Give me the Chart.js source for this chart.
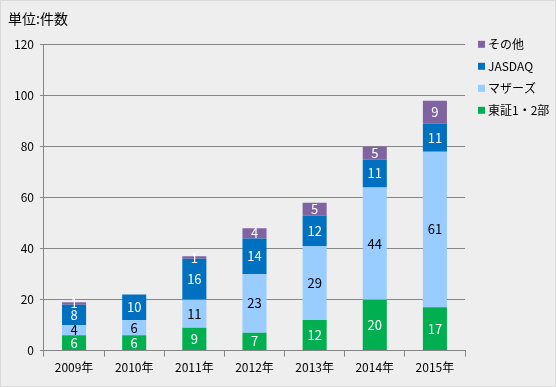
<!DOCTYPE html>
<html><head><meta charset="utf-8">
<script src="https://cdn.jsdelivr.net/npm/chart.js@4/dist/chart.umd.min.js"></script>
<style>html,body{margin:0;padding:0;background:#eeeeee}canvas{display:block}</style>
</head><body><canvas id="c" width="556" height="387"></canvas>
<script>
const categories = ['2009年','2010年','2011年','2012年','2013年','2014年','2015年'];
const tosho = [6,6,9,7,12,20,17];
const mothers = [4,6,11,23,29,44,61];
const jasdaq = [8,10,16,14,12,11,11];
const others = [1,0,1,4,5,5,9];
const seriesNames = ['東証1・2部','マザーズ','JASDAQ','その他'];
const seriesColors = ['#00B050','#99CCFF','#0070C0','#8064A2'];
const labelColors = ['#ffffff','#000000','#ffffff','#ffffff'];
const yMin = 0, yMax = 120, yStep = 20;

const FONT = '"Noto Sans CJK JP", "Noto Sans", sans-serif';
Chart.defaults.font.family = FONT;
Chart.defaults.color = '#000';

const bgPlugin = {
  id: 'bg',
  beforeDraw(chart) {
    const c = chart.ctx;
    c.save();
    c.fillStyle = '#eeeeee';
    c.fillRect(0, 0, chart.width, chart.height);
    c.strokeStyle = '#d9d9d9';
    c.lineWidth = 1;
    c.strokeRect(0.5, 0.5, chart.width - 1, chart.height - 1);
    c.restore();
  }
};

const labelPlugin = {
  id: 'segLabels',
  afterDatasetsDraw(chart) {
    const c = chart.ctx;
    c.save();
    c.font = '13px ' + FONT;
    c.textAlign = 'center';
    c.textBaseline = 'middle';
    chart.data.datasets.forEach((ds, i) => {
      const meta = chart.getDatasetMeta(i);
      meta.data.forEach((bar, j) => {
        const v = ds.data[j];
        if (!v) return;
        c.fillStyle = labelColors[i];
        c.fillText(String(v), bar.x, (bar.y + bar.base) / 2);
      });
    });
    c.restore();
  }
};

// legend drawn beside the plot, in reverse dataset order
const legendPlugin = {
  id: 'sideLegend',
  afterDraw(chart) {
    const c = chart.ctx;
    const area = chart.chartArea;
    const x0 = area.right + 13;
    const y0 = area.top;
    const step = 22;
    c.save();
    c.font = '12px ' + FONT;
    c.textAlign = 'left';
    c.textBaseline = 'middle';
    const ds = chart.data.datasets.slice().reverse();
    ds.forEach((d, k) => {
      const y = y0 + k * step;
      c.fillStyle = d.backgroundColor;
      c.fillRect(x0, y - 4, 7, 7);
      c.fillStyle = '#000';
      c.fillText(d.label, x0 + 10, y);
    });
    c.restore();
  }
};

const datasets = [tosho, mothers, jasdaq, others].map((d, i) => ({
  label: seriesNames[i],
  data: d,
  backgroundColor: seriesColors[i],
  borderWidth: 0,
  barPercentage: 0.4,
  categoryPercentage: 1.0
}));

new Chart(document.getElementById('c'), {
  type: 'bar',
  data: { labels: categories, datasets },
  plugins: [bgPlugin, labelPlugin, legendPlugin],
  options: {
    responsive: false,
    animation: false,
    layout: { padding: { left: 8, right: 91, top: 4, bottom: 8 } },
    plugins: {
      title: {
        display: true,
        text: '単位:件数',
        align: 'start',
        font: { size: 14, weight: 'normal' },
        color: '#000',
        padding: { top: 6, bottom: 18 }
      },
      legend: { display: false },
      tooltip: { enabled: false }
    },
    scales: {
      x: {
        stacked: true,
        grid: { display: true, drawOnChartArea: false, color: '#868686', tickLength: 6 },
        border: { display: true, color: '#868686' },
        ticks: { font: { size: 12 }, color: '#000', padding: 4 }
      },
      y: {
        stacked: true,
        min: yMin, max: yMax,
        ticks: { stepSize: yStep, font: { size: 12 }, color: '#000', padding: 6 },
        grid: { color: '#868686', tickLength: 4 },
        border: { display: true, color: '#868686' }
      }
    }
  }
});
</script></body></html>
